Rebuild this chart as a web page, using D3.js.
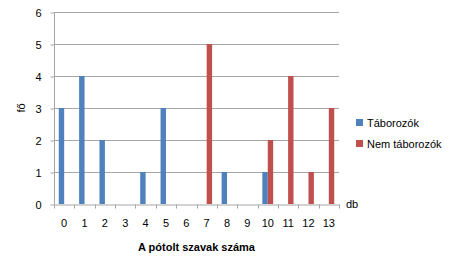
<!DOCTYPE html>
<meta charset="UTF-8">
<html>
<head>
	<script src="https://d3js.org/d3.v7.min.js"></script>
	<style>
		body { margin: 0; background: #fff; }
		text { font-family: "Liberation Sans", Arial, sans-serif; fill: #000; }
	</style>
</head>
<body>
	<svg id="chart" width="450" height="266"></svg>
	<script>
		// data
		var categories = ["0","1","2","3","4","5","6","7","8","9","10","11","12","13"];
		var taborozok = [3,4,2,0,1,3,0,0,1,0,1,0,0,0];
		var nemTaborozok = [0,0,0,0,0,0,0,5,0,0,2,4,1,3];
		var seriesNames = ["Táborozók", "Nem táborozók"];
		var seriesColors = ["#4F81BD", "#C0504D"];
		var yTicks = [0,1,2,3,4,5,6];

		var svg = d3.select("#chart");
		// plot area (note: "top" is taken by window.top, so use other names)
		var pLeft = 54, pRight = 339, pTop = 12, pBottom = 204;

		var x = d3.scaleBand()
			.domain(categories)
			.range([pLeft, pRight])
			.padding(0);
		var x1 = d3.scaleBand()
			.domain([0, 1])
			.range([0, x.bandwidth()])
			.paddingInner(0)
			.paddingOuter(0.88);
		var y = d3.scaleLinear()
			.domain([0, 6])
			.range([pBottom, pTop]);

		// gridlines
		svg.append("g").selectAll("line")
			.data(yTicks.slice(1))
			.enter().append("line")
				.attr("x1", pLeft).attr("x2", pRight)
				.attr("y1", function(d){ return y(d) + 0.5; })
				.attr("y2", function(d){ return y(d) + 0.5; })
				.attr("stroke", "#a6a6a6")
				.attr("stroke-width", 1);

		// bars
		var rows = categories.map(function(c, i){ return [taborozok[i], nemTaborozok[i]]; });
		var groups = svg.append("g").selectAll("g")
			.data(rows)
			.enter().append("g")
				.attr("transform", function(d, i){ return "translate(" + x(categories[i]) + ",0)"; });
		groups.selectAll("rect")
			.data(function(d){ return d; })
			.enter().append("rect")
				.attr("x", function(d, j){ return x1(j); })
				.attr("width", x1.bandwidth())
				.attr("y", function(d){ return y(d); })
				.attr("height", function(d){ return y(0) - y(d); })
				.attr("fill", function(d, j){ return seriesColors[j]; });

		// y axis
		var yAxis = svg.append("g")
			.attr("transform", "translate(" + (pLeft + 0.5) + ",0.5)")
			.call(d3.axisLeft(y).tickValues(yTicks).tickFormat(d3.format("d")).tickSize(4).tickPadding(9));
		yAxis.select(".domain").attr("stroke", "#a6a6a6").attr("d", "M0," + pTop + "V" + pBottom);
		yAxis.selectAll(".tick line").attr("stroke", "#a6a6a6");
		yAxis.selectAll("text").style("font-size", "11px");

		// x axis with ticks between categories
		var xAxis = svg.append("g")
			.attr("transform", "translate(0," + (pBottom + 0.5) + ")")
			.call(d3.axisBottom(x).tickSize(0).tickPadding(15));
		xAxis.select(".domain").attr("stroke", "#a6a6a6");
		xAxis.selectAll("text").style("font-size", "11px");
		xAxis.append("g").selectAll("line")
			.data(categories.concat(["end"]))
			.enter().append("line")
				.attr("x1", function(d, i){ return Math.round(pLeft + i * x.bandwidth()) + 0.5; })
				.attr("x2", function(d, i){ return Math.round(pLeft + i * x.bandwidth()) + 0.5; })
				.attr("y1", 0).attr("y2", 4)
				.attr("stroke", "#a6a6a6");

		// axis titles
		svg.append("text")
			.attr("x", (pLeft + pRight) / 2)
			.attr("y", 251)
			.attr("text-anchor", "middle")
			.style("font-size", "11px")
			.style("font-weight", "bold")
			.text("A pótolt szavak száma");
		svg.append("text")
			.attr("transform", "translate(25," + y(3) + ") rotate(-90)")
			.attr("text-anchor", "middle")
			.style("font-size", "11px")
			.text("fő");
		svg.append("text")
			.attr("x", 346)
			.attr("y", 208)
			.style("font-size", "11px")
			.text("db");

		// legend
		var legend = svg.append("g").selectAll("g")
			.data(seriesNames)
			.enter().append("g")
				.attr("transform", function(d, i){ return "translate(356," + (119 + i * 21) + ")"; });
		legend.append("rect")
			.attr("width", 7).attr("height", 7)
			.attr("fill", function(d, i){ return seriesColors[i]; });
		legend.append("text")
			.attr("x", 11).attr("y", 7.5)
			.style("font-size", "11px")
			.text(function(d){ return d; });
	</script>
</body>
</html>
